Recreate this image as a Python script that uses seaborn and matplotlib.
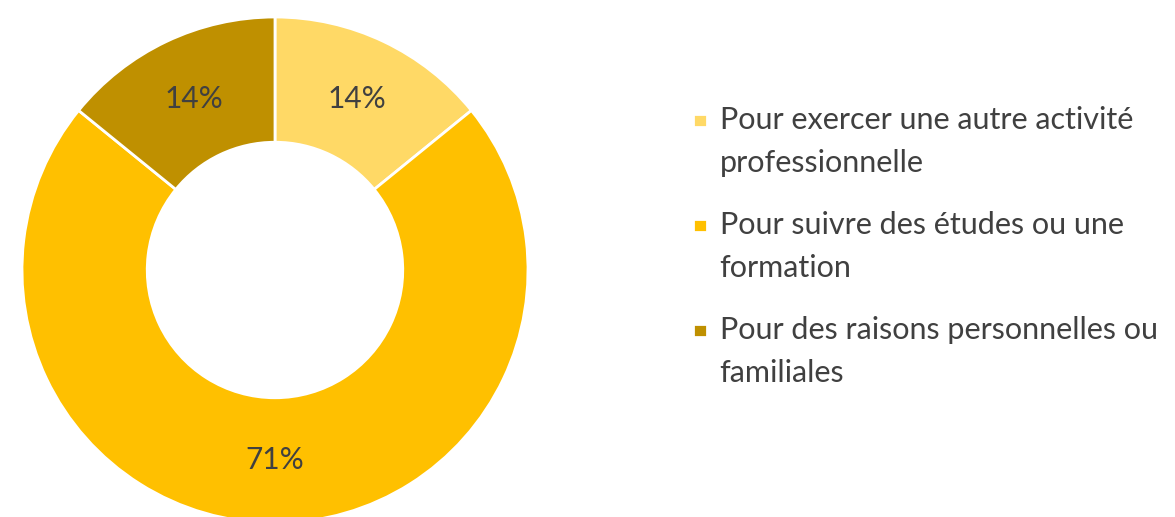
import matplotlib
matplotlib.use("Agg")
import matplotlib.pyplot as plt
import seaborn as sns
import numpy as np
from matplotlib.legend_handler import HandlerPatch
from matplotlib.patches import Rectangle

# Données
categories = [
    "Pour exercer une autre activité\nprofessionnelle",
    "Pour suivre des études ou une\nformation",
    "Pour des raisons personnelles ou\nfamiliales",
]
valeurs = [14, 71, 14]
etiquettes = ["14%", "71%", "14%"]
couleurs = ["#FFD966", "#FFC000", "#BF9000"]

sns.set_theme(style="white")
plt.rcParams["font.family"] = ["Lato", "DejaVu Sans"]

fig = plt.figure(figsize=(11.75, 5.17), dpi=100)
# axe du donut : centre ~ (275, 270) px, rayon ~ 253 px
ax = fig.add_axes([22 / 1175, -6 / 517, 506 / 1175, 506 / 517])

wedges, _ = ax.pie(
    valeurs,
    colors=couleurs,
    startangle=90,
    counterclock=False,
    radius=1.0,
    wedgeprops=dict(width=0.495, edgecolor="white", linewidth=2),
)

# étiquettes au milieu de l'anneau
for w, lab in zip(wedges, etiquettes):
    ang = np.deg2rad((w.theta1 + w.theta2) / 2)
    r = 0.75
    ax.text(r * np.cos(ang), r * np.sin(ang), lab, ha="center", va="center",
            fontsize=21.5, color="#404040")

ax.set_xlim(-1, 1)
ax.set_ylim(-1, 1)
ax.set_aspect("equal")
ax.axis("off")


# carré de légende aligné sur la première ligne du libellé
def carre(legend, orig_handle, xdescent, ydescent, width, height, fontsize):
    return Rectangle((-xdescent, -ydescent + 17), 10, 9.5)


taille_police = 22
leg = fig.legend(
    wedges, categories,
    loc="upper left",
    bbox_to_anchor=(693 / 1175, 1 - 106 / 517),
    frameon=False,
    fontsize=taille_police,
    handlelength=10 / taille_police,
    handleheight=0.5,
    handletextpad=0.42,
    labelspacing=1.1,
    borderpad=0,
    borderaxespad=0,
    labelcolor="#404040",
    handler_map={type(wedges[0]): HandlerPatch(patch_func=carre)},
)
for t in leg.get_texts():
    t.set_linespacing(1.66)

fig.savefig("out.png", dpi=100)
